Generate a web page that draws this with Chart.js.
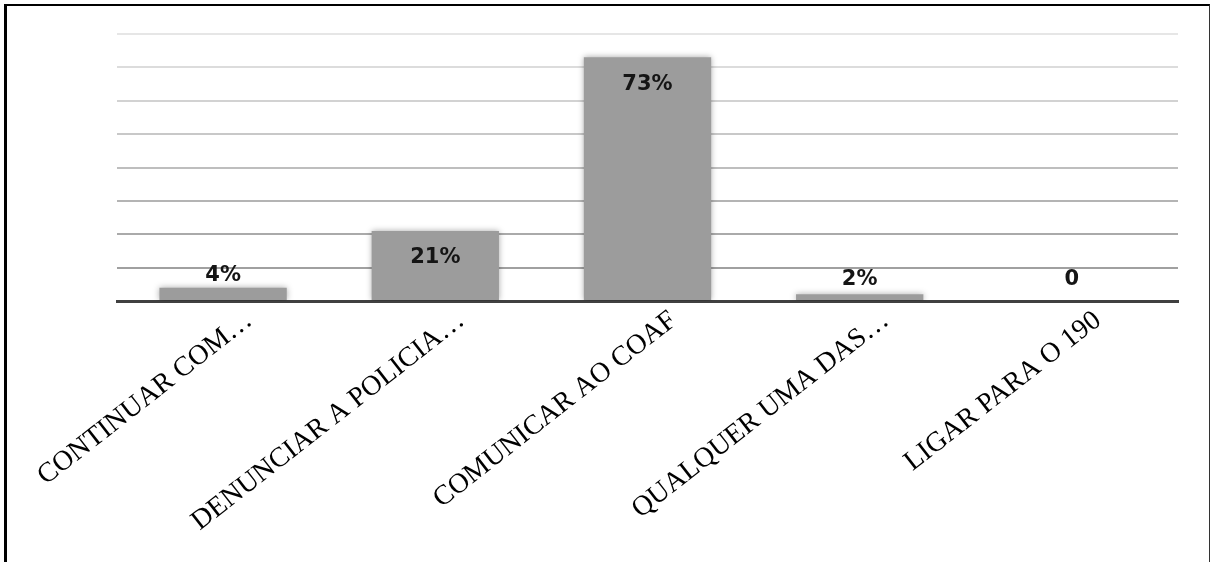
<!DOCTYPE html>
<html>
<head>
<meta charset="utf-8">
<script src="https://cdn.jsdelivr.net/npm/chart.js@4"></script>
<style>
  html, body { margin: 0; padding: 0; background: #fff; }
  #wrap { position: relative; width: 1214px; height: 562px; overflow: hidden; }
  #myChart { position: absolute; left: 0; top: 0; }
  #frame {
    position: absolute; left: 4px; top: 4px; width: 1202px; height: 570px;
    border-top: 2px solid #000; border-left: 3px solid #000; border-right: 1px solid #333;
    pointer-events: none;
  }
</style>
</head>
<body>
<div id="wrap">
  <canvas id="myChart" width="1214" height="562"></canvas>
  <div id="frame"></div>
</div>
<script>
const categories = [
  "CONTINUAR COM\u2026",
  "DENUNCIAR A POLICIA\u2026",
  "COMUNICAR AO COAF",
  "QUALQUER UMA DAS\u2026",
  "LIGAR PARA O 190",
];
const values = [4, 21, 73, 2, 0];
const valueLabels = ["4%", "21%", "73%", "2%", "0"];
const yTicks = [0, 10, 20, 30, 40, 50, 60, 70, 80];

const myChart = document.querySelector("#myChart");

// grid lines get lighter towards the top
function gridColor(ctx) {
  const v = ctx.tick ? ctx.tick.value : 0;
  const t = Math.min(Math.max((v - 10) / 70, 0), 1);
  const c = Math.round(160 + t * 70);
  return "rgb(" + c + "," + c + "," + c + ")";
}

const barShadow = {
  id: "barShadow",
  beforeDatasetsDraw(chart) {
    const ctx = chart.ctx;
    ctx.save();
    ctx.shadowColor = "rgba(0,0,0,0.35)";
    ctx.shadowBlur = 6;
    ctx.shadowOffsetX = 0;
    ctx.shadowOffsetY = 0;
  },
  afterDatasetsDraw(chart) {
    chart.ctx.restore();
  },
};

const valueLabelPlugin = {
  id: "valueLabels",
  afterDatasetsDraw(chart) {
    const ctx = chart.ctx;
    const meta = chart.getDatasetMeta(0);
    const base = chart.scales.y.getPixelForValue(0);
    ctx.save();
    ctx.font = "bold 21px 'DejaVu Sans'";
    ctx.fillStyle = "#151515";
    ctx.textAlign = "center";
    ctx.textBaseline = "middle";
    meta.data.forEach((bar, i) => {
      const inside = values[i] > 10;
      const y = inside ? bar.y + 27 : Math.min(bar.y - 12, base - 21);
      ctx.fillText(valueLabels[i], bar.x, y);
    });
    ctx.restore();
  },
};

const data = {
  labels: categories,
  datasets: [
    {
      data: values,
      backgroundColor: "#9c9c9c",
      borderWidth: 0,
      barPercentage: 0.6,
      categoryPercentage: 1,
    },
  ],
};

const config = {
  type: "bar",
  data: data,
  options: {
    responsive: false,
    animation: false,
    layout: { padding: { left: 117, right: 36, top: 34, bottom: 0 } },
    plugins: {
      legend: { display: false },
      tooltip: { enabled: false },
    },
    scales: {
      x: {
        grid: { display: false },
        border: { display: true, color: "#404040", width: 3 },
        afterFit: (s) => { s.height = 261; },
        ticks: {
          minRotation: 38,
          maxRotation: 38,
          autoSkip: false,
          labelOffset: 26,
          padding: -5,
          color: "#000",
          font: { family: "'Liberation Serif'", size: 28 },
        },
      },
      y: {
        min: 0,
        max: 80,
        afterFit: (s) => { s.width = 0; },
        afterBuildTicks: (s) => { s.ticks = yTicks.map((v) => ({ value: v })); },
        border: { display: false },
        grid: { color: gridColor, lineWidth: 2, drawTicks: false },
        ticks: { display: false },
      },
    },
  },
  plugins: [barShadow, valueLabelPlugin],
};

const barChart = new Chart(myChart, config);
</script>
</body>
</html>
